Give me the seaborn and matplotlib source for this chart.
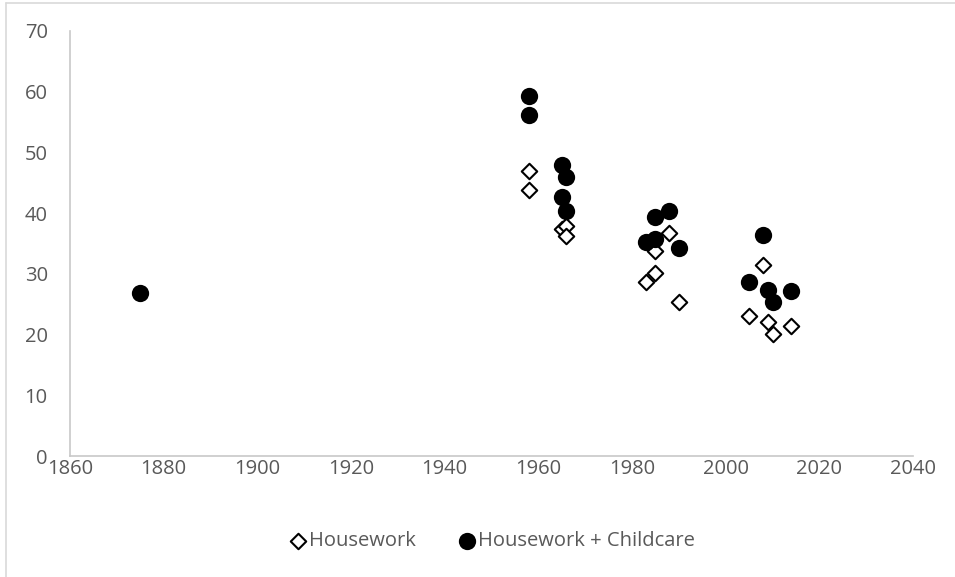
import matplotlib
matplotlib.use("Agg")
import matplotlib.pyplot as plt
from matplotlib.lines import Line2D
import numpy as np
import pandas as pd
import seaborn as sns

# Weekly hours spent on housework, by survey year
housework_year = [1958, 1958, 1965, 1966, 1966, 1988, 1985, 1985, 1983, 1990,
                  2008, 2005, 2009, 2010, 2014]
housework_hours = [47.0, 43.8, 37.4, 37.9, 36.2, 36.8, 33.7, 30.2, 28.6, 25.4,
                   31.5, 23.1, 22.0, 20.1, 21.4]

# Weekly hours spent on housework plus childcare, by survey year
combined_year = [1875, 1958, 1958, 1965, 1966, 1965, 1966, 1985, 1988, 1983,
                 1985, 1990, 2008, 2005, 2009, 2010, 2014]
combined_hours = [26.8, 59.3, 56.1, 47.9, 45.9, 42.6, 40.3, 39.4, 40.4, 35.3,
                  35.7, 34.3, 36.4, 28.6, 27.3, 25.3, 27.2]

series_names = ["Housework", "Housework + Childcare"]
x_ticks = list(range(1860, 2041, 20))
y_ticks = list(range(0, 71, 10))

hw = pd.DataFrame({"year": housework_year, "hours": housework_hours})
hc = pd.DataFrame({"year": combined_year, "hours": combined_hours})

sns.set_style("white")
plt.rcParams["font.family"] = ["Open Sans", "DejaVu Sans"]

fig = plt.figure(figsize=(9.55, 5.77), dpi=100)
ax = fig.add_axes([70 / 955, 1 - 456 / 577, (913 - 70) / 955, (456 - 31) / 577])

sns.scatterplot(data=hw, x="year", y="hours", ax=ax, marker="D", s=62,
                facecolor="white", edgecolor="black", linewidth=1.5,
                label=series_names[0], zorder=3)
sns.scatterplot(data=hc, x="year", y="hours", ax=ax, marker="o", s=155,
                color="black", edgecolor="black", linewidth=0,
                label=series_names[1], zorder=4)

ax.set_xlim(x_ticks[0], x_ticks[-1])
ax.set_ylim(y_ticks[0], y_ticks[-1])
ax.set_xticks(x_ticks)
ax.set_yticks(y_ticks)
ax.set_xlabel("")
ax.set_ylabel("")
ax.tick_params(axis="both", length=0, labelsize=14.5, labelcolor="#595959")
ax.tick_params(axis="y", pad=16)
ax.tick_params(axis="x", pad=2)

for side in ("top", "right"):
    ax.spines[side].set_visible(False)
for side in ("left", "bottom"):
    ax.spines[side].set_color("#c8c8c8")
    ax.spines[side].set_linewidth(1.2)

leg = ax.legend(loc="center", bbox_to_anchor=(0.5, -0.2), ncol=2,
                frameon=False, fontsize=14.5, handletextpad=0.05,
                columnspacing=2.0, handlelength=1.0)
for txt in leg.get_texts():
    txt.set_color("#595959")

# Outer chart frame (left and top edges)
fig.add_artist(Line2D([6 / 955, 6 / 955], [0, 1 - 3 / 577],
                      color="#d9d9d9", lw=1.2, transform=fig.transFigure))
fig.add_artist(Line2D([6 / 955, 1], [1 - 3 / 577, 1 - 3 / 577],
                      color="#d9d9d9", lw=1.2, transform=fig.transFigure))

fig.savefig("out.png", dpi=100)
